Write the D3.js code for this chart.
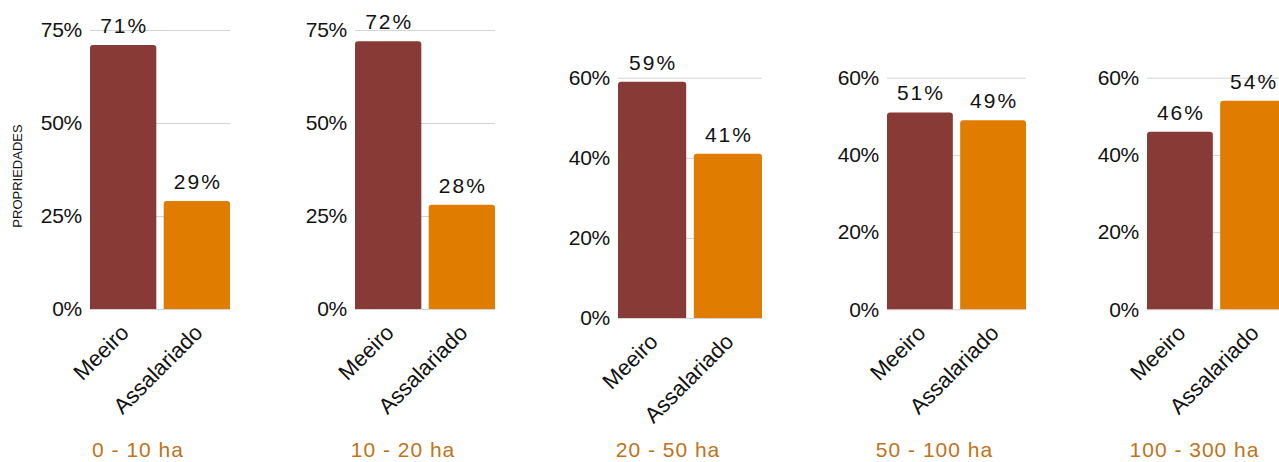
<!DOCTYPE html>
<html>
<head>
<meta charset="utf-8">
<script src="https://cdn.jsdelivr.net/npm/d3@7"></script>
<style>
  html, body { margin: 0; padding: 0; background: #fff; }
  svg { display: block; font-family: "Liberation Sans", Arial, sans-serif; }
</style>
</head>
<body>
<svg id="chart" width="1279" height="462"></svg>
<script>
// ---- data ----
const categories = ["Meeiro", "Assalariado"];
const groups = ["0 - 10 ha", "10 - 20 ha", "20 - 50 ha", "50 - 100 ha", "100 - 300 ha"];
const meeiro = [71, 72, 59, 51, 46];
const assalariado = [29, 28, 41, 49, 54];
const yMaxes = [75, 75, 60, 60, 60];
const yTickValues = [
  [0, 25, 50, 75],
  [0, 25, 50, 75],
  [0, 20, 40, 60],
  [0, 20, 40, 60],
  [0, 20, 40, 60]
];
const yAxisTitle = "PROPRIEDADES";

// ---- layout (positions, not data) ----
const panels = [
  { left: 90,   right: 230,  top: 30,   bottom: 309 },
  { left: 355,  right: 495,  top: 30,   bottom: 309 },
  { left: 618,  right: 762,  top: 77.7, bottom: 318 },
  { left: 887,  right: 1026, top: 77.7, bottom: 309.3 },
  { left: 1147, right: 1286, top: 77.7, bottom: 309.3 }
];
const colors = { Meeiro: "#883B36", Assalariado: "#E07C00" };

const svg = d3.select("#chart");

function topRoundedRect(x, y, w, h, r) {
  r = Math.min(r, w / 2, h);
  return `M${x},${y + h}V${y + r}Q${x},${y} ${x + r},${y}H${x + w - r}Q${x + w},${y} ${x + w},${y + r}V${y + h}Z`;
}

groups.forEach((g, i) => {
  const p = panels[i];
  const w = p.right - p.left;
  const x = d3.scaleBand().domain(categories).range([p.left, p.right]).paddingInner(0.1).paddingOuter(0);
  const y = d3.scaleLinear().domain([0, yMaxes[i]]).range([p.bottom, p.top]);
  const vals = { Meeiro: meeiro[i], Assalariado: assalariado[i] };

  // gridlines + tick labels
  const ax = svg.append("g")
    .attr("transform", `translate(${p.left},0)`)
    .call(d3.axisLeft(y).tickValues(yTickValues[i]).tickSize(-w).tickPadding(8).tickFormat(d => d + "%"));
  ax.select(".domain").remove();
  ax.selectAll(".tick line").attr("stroke", "#d4d4d4").attr("stroke-width", 1);
  ax.selectAll(".tick text").attr("fill", "#111").style("font-size", "21px").style("letter-spacing", "-0.3px");

  // bars
  svg.append("g").selectAll("path").data(categories).join("path")
    .attr("d", c => topRoundedRect(x(c), y(vals[c]), x.bandwidth(), y(0) - y(vals[c]), 3))
    .attr("fill", c => colors[c]);

  // value labels
  svg.append("g").selectAll("text").data(categories).join("text")
    .attr("x", c => x(c) + x.bandwidth() / 2 + 1)
    .attr("y", c => y(vals[c]) - 12)
    .attr("text-anchor", "middle")
    .attr("fill", "#111")
    .style("font-size", "21px")
    .style("letter-spacing", "2px")
    .text(c => vals[c] + "%");

  // category labels
  svg.append("g").selectAll("text").data(categories).join("text")
    .attr("transform", c => `translate(${x(c) + x.bandwidth() / 2 + 7},${p.bottom + 25}) rotate(-45)`)
    .attr("text-anchor", "end")
    .attr("fill", "#111")
    .style("font-size", "22px")
    .text(c => c);

  // group title
  svg.append("text")
    .attr("x", (p.left + p.right) / 2 - 22)
    .attr("y", 457)
    .attr("text-anchor", "middle")
    .attr("fill", "#C0731A")
    .style("font-size", "21px")
    .style("letter-spacing", "1px")
    .text(g);
});

// y-axis title
svg.append("text")
  .attr("transform", "translate(22,176) rotate(-90)")
  .attr("text-anchor", "middle")
  .attr("fill", "#111")
  .style("font-size", "13px")
  .text(yAxisTitle);
</script>
</body>
</html>
